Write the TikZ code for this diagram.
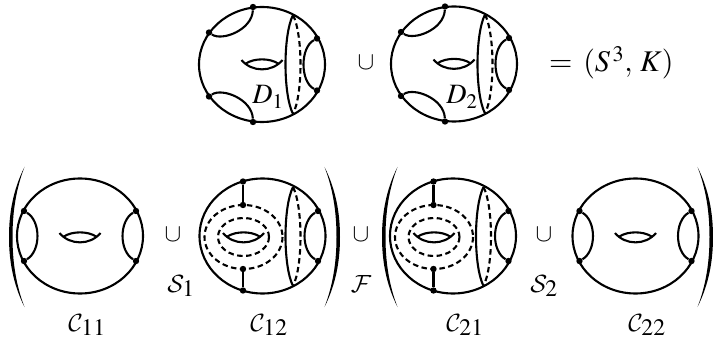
\documentclass[tikz,border=0pt]{standalone}
\usepackage{amsmath}
\usepackage{amssymb}
\usepackage{mathptmx}
\usepackage{tikz}
\usetikzlibrary{
  arrows.meta,
  positioning,
  calc
}
\DeclareMathAlphabet{\mathcal}{OMS}{cmsy}{m}{n}
\tikzset{
  curve/.style={line width=2.1pt},
  dashcurve/.style={line width=2.1pt, dash pattern=on 5.5pt off 3.5pt},
  stem/.style={line width=2.5pt},
  dotnode/.style={circle, fill=black, inner sep=0pt, minimum size=6.4pt},
  mathlabel/.style={inner sep=0pt, anchor=base, font=\fontsize{28}{30}\selectfont},
  callabel/.style={inner sep=0pt, anchor=base, font=\fontsize{32}{34}\selectfont},
  cuplabel/.style={inner sep=0pt, font=\fontsize{25}{27}\selectfont},
  hole/.pic={
    \draw[curve] (-20.5,0) .. controls (-10,12.5) and (10,12.5) .. (20.5,0);
    \draw[curve] (-16,3.5) .. controls (-8,-2) and (8,-2) .. (16,3.5);
  },
  shell/.pic={
    \draw[curve] (0,0) ellipse [x radius=63, y radius=57.5];
  },
  wall/.pic={
    \coordinate (-t) at (0,-49.5);
    \coordinate (-b) at (0,49.5);
    \draw[curve] (-t) .. controls +(-10,20) and +(-10,-20) .. (-b);
    \draw[dashcurve] (-t) .. controls +(10,20) and +(10,-20) .. (-b);
  },
  paren/.pic={
    \fill (8,-70) .. controls (-3,-48) and (-7.5,-25) .. (-7.5,0)
      .. controls (-7.5,25) and (-3,48) .. (8,70)
      .. controls (-0.5,48) and (-4,25) .. (-4,0)
      .. controls (-4,-25) and (-0.5,-48) .. (8,-70) -- cycle;
  }
}
\begin{document}
\begin{tikzpicture}[x=1pt, y=-1pt]
  \useasboundingbox (0,0) rectangle (713,342);

  % upper row
  \foreach \n/\cx/\cy in {p/262/64.5, q/454/64}{
    \pic at (\cx,\cy) {shell};
    \pic at (\cx,\cy-4.5) {hole};
    \pic (\n w) at (\cx+31,\cy) {wall};
    \node[dotnode] (\n a) at (\cx-9,\cy-57.5) {};
    \node[dotnode] (\n b) at (\cx-53,\cy-32) {};
    \node[dotnode] (\n c) at (\cx-53,\cy+32) {};
    \node[dotnode] (\n d) at (\cx-9,\cy+57.5) {};
    \node[dotnode] (\n e) at (\cx+55,\cy-26) {};
    \node[dotnode] (\n f) at (\cx+55,\cy+26) {};
    \draw[curve] (\n b) .. controls +(13,9) and +(-1,23) .. (\n a);
    \draw[curve] (\n c) .. controls +(13,-9) and +(-1,-23) .. (\n d);
    \draw[curve] (\n e) .. controls +(-17,9) and +(-17,-9) .. (\n f);
  }

  % lower row, the two outer bodies
  \foreach \n/\cx/\hx in {r/80/80, u/635.5/635.5}{
    \pic at (\cx,236) {shell};
    \pic at (\hx,233) {hole};
    \node[dotnode] (\n a) at (\cx-56,211) {};
    \node[dotnode] (\n b) at (\cx-56,261) {};
    \node[dotnode] (\n c) at (\cx+56,211) {};
    \node[dotnode] (\n d) at (\cx+56,261) {};
    \draw[curve] (\n a) .. controls +(17,10) and +(17,-10) .. (\n b);
    \draw[curve] (\n c) .. controls +(-17,10) and +(-17,-10) .. (\n d);
  }

  % lower row, the two inner bodies
  \foreach \n/\cx in {s/262.5, t/453}{
    \pic at (\cx,236) {shell};
    \pic at (\cx-19,233) {hole};
    \pic (\n w) at (\cx+30.5,236.5) {wall};
    \draw[dashcurve] (\cx-19,237) ellipse [x radius=39, y radius=32];
    \draw[dashcurve] (\cx-19,237) ellipse [x radius=25.5, y radius=19];
    \node[dotnode] (\n a) at (\cx-19.5,181.5) {};
    \node[dotnode] (\n b) at (\cx-19.5,205) {};
    \node[dotnode] (\n c) at (\cx-19.5,269) {};
    \node[dotnode] (\n d) at (\cx-19.5,290.5) {};
    \node[dotnode] (\n e) at (\cx+55.5,211) {};
    \node[dotnode] (\n f) at (\cx+55.5,261) {};
    \draw[stem] (\n a) -- (\n b);
    \draw[stem] (\n c) -- (\n d);
    \draw[curve] (\n e) .. controls +(-17,10) and +(-17,-10) .. (\n f);
  }

  % brackets
  \pic at (16.5,237) {paren};
  \pic[xscale=-1] at (332.5,237) {paren};
  \pic at (389.5,237) {paren};
  \pic[xscale=-1] at (705.5,237) {paren};

  % labels
  \node[mathlabel] (d1) at (268,104) {$D_1$};
  \node[mathlabel] (d2) at (462,104) {$D_2$};
  \node[cuplabel] (cup1) at (366,63) {$\cup$};
  \node[mathlabel, anchor=base west, font=\fontsize{30}{32}\selectfont] (eq) at (549,72) {$=\:(S^{\,3},\:K)$};

  \node[cuplabel] (cup2) at (173,235) {$\cup$};
  \node[cuplabel] (cup3) at (361,235) {$\cup$};
  \node[cuplabel] (cup4) at (544,235) {$\cup$};
  \node[callabel] (s1) at (181,292) {$\mathcal{S}_1$};
  \node[callabel] (f0) at (361,292) {$\mathcal{F}$};
  \node[callabel] (s2) at (544,292) {$\mathcal{S}_2$};
  \foreach \n/\lx/\sub in {c11/87/{11}, c12/269/{12}, c21/465/{21}, c22/647/{22}}{
    \node[callabel] (\n) at (\lx,331) {$\mathcal{C}_{\sub}$};
  }
\end{tikzpicture}
\end{document}
